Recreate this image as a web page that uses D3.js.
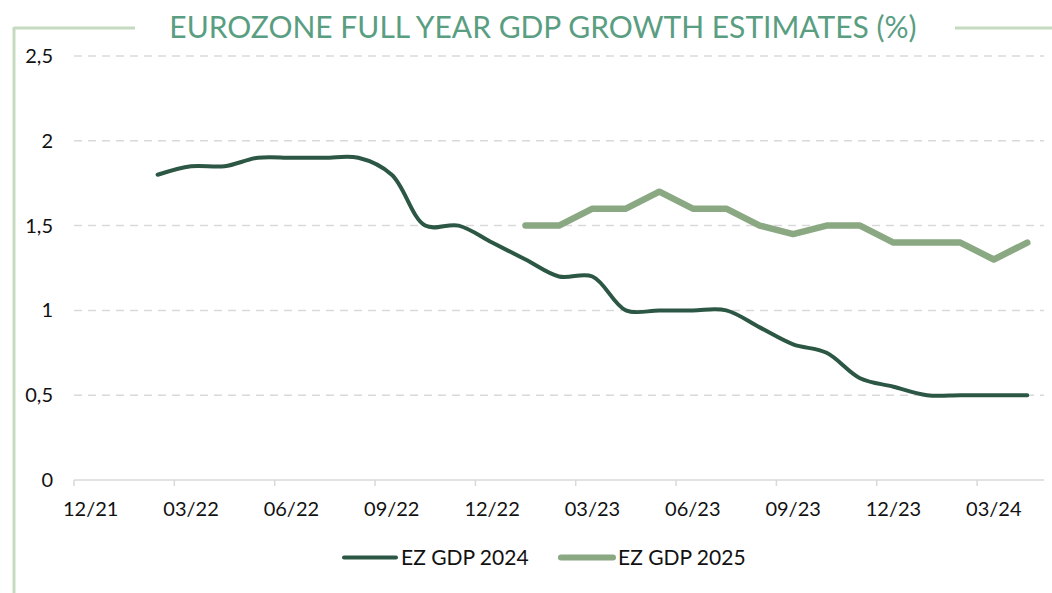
<!DOCTYPE html>
<html>
<head>
<meta charset="utf-8">
<script src="https://cdn.jsdelivr.net/npm/d3@7"></script>
<style>
  html, body { margin: 0; padding: 0; background: #fff; }
  svg { display: block; font-family: Lato, "Open Sans", sans-serif; }
</style>
</head>
<body>
<div id="chart"></div>
<script>
// months on the axis (monthly categories, labels every quarter)
const months = ['12/21','01/22','02/22','03/22','04/22','05/22','06/22','07/22','08/22','09/22','10/22','11/22',
  '12/22','01/23','02/23','03/23','04/23','05/23','06/23','07/23','08/23','09/23','10/23','11/23',
  '12/23','01/24','02/24','03/24','04/24'];
const gdp2024 = [null, null, 1.80, 1.85, 1.85, 1.90, 1.90, 1.90, 1.90, 1.80, 1.50, 1.50,
  1.40, 1.30, 1.20, 1.20, 1.00, 1.00, 1.00, 1.00, 0.90, 0.80, 0.75, 0.60,
  0.55, 0.50, 0.50, 0.50, 0.50];
const gdp2025 = [null, null, null, null, null, null, null, null, null, null, null, null,
  null, 1.50, 1.50, 1.60, 1.60, 1.70, 1.60, 1.60, 1.50, 1.45, 1.50, 1.50,
  1.40, 1.40, 1.40, 1.30, 1.40];
const yTicks = [0, 0.5, 1, 1.5, 2, 2.5];
const seriesNames = ['EZ GDP 2024', 'EZ GDP 2025'];

const width = 1052, height = 593;
const svg = d3.select('#chart').append('svg')
    .attr('width', width)
    .attr('height', height);

// cadre vert clair
const frame = '#c5dbc1';
svg.append('line').attr('x1', 14).attr('y1', 28).attr('x2', 135).attr('y2', 28)
    .attr('stroke', frame).attr('stroke-width', 3);
svg.append('line').attr('x1', 14).attr('y1', 27).attr('x2', 14).attr('y2', height)
    .attr('stroke', frame).attr('stroke-width', 3);
svg.append('line').attr('x1', 955).attr('y1', 28).attr('x2', width).attr('y2', 28)
    .attr('stroke', frame).attr('stroke-width', 3);

svg.append('text')
    .attr('x', 543)
    .attr('y', 38)
    .attr('text-anchor', 'middle')
    .attr('fill', '#5a9e82')
    .style('font-size', '30px')
    .text('EUROZONE FULL YEAR GDP GROWTH ESTIMATES (%)');

const x = d3.scaleBand().domain(months).range([74, 1044]);
const y = d3.scaleLinear().domain([0, 2.5]).range([480, 56]);
const fmt = d => String(d).replace('.', ',');

// gridlines
svg.append('g').selectAll('line')
    .data(yTicks.filter(d => d > 0))
    .enter().append('line')
    .attr('x1', 74).attr('x2', 1044)
    .attr('y1', d => y(d)).attr('y2', d => y(d))
    .attr('stroke', '#d9d9d9')
    .attr('stroke-width', 1.5)
    .attr('stroke-dasharray', '8,6');

// y labels
svg.append('g').selectAll('text')
    .data(yTicks)
    .enter().append('text')
    .attr('x', 53)
    .attr('y', d => y(d) + 7)
    .attr('text-anchor', 'end')
    .attr('fill', '#111')
    .style('font-size', '20px')
    .text(fmt);

// x axis
svg.append('line')
    .attr('x1', 74).attr('x2', 1044)
    .attr('y1', y(0)).attr('y2', y(0))
    .attr('stroke', '#d9d9d9').attr('stroke-width', 1.5);

const labelled = months.filter((m, i) => i % 3 === 0);
svg.append('g').selectAll('line')
    .data(labelled)
    .enter().append('line')
    .attr('x1', d => x(d)).attr('x2', d => x(d))
    .attr('y1', y(0)).attr('y2', y(0) + 6)
    .attr('stroke', '#d9d9d9').attr('stroke-width', 1.5);

svg.append('g').selectAll('text')
    .data(labelled)
    .enter().append('text')
    .attr('x', d => x(d) + x.bandwidth() / 2)
    .attr('y', 516)
    .attr('text-anchor', 'middle')
    .attr('fill', '#111')
    .style('font-size', '20px')
    .text(d => d);

// series
const cx = (d, i) => x(months[i]) + x.bandwidth() / 2;

const smooth = d3.line()
    .defined(d => d !== null)
    .x(cx)
    .y(d => y(d))
    .curve(d3.curveCatmullRom.alpha(0.5));

const straight = d3.line()
    .defined(d => d !== null)
    .x(cx)
    .y(d => y(d));

svg.append('path')
    .datum(gdp2025)
    .attr('d', straight)
    .attr('fill', 'none')
    .attr('stroke', '#8aa882')
    .attr('stroke-width', 6.5)
    .attr('stroke-linecap', 'round')
    .attr('stroke-linejoin', 'round');

svg.append('path')
    .datum(gdp2024)
    .attr('d', smooth)
    .attr('fill', 'none')
    .attr('stroke', '#2c5745')
    .attr('stroke-width', 4)
    .attr('stroke-linecap', 'round');

// legende
const legend = [
  {name: seriesNames[0], color: '#2c5745', w: 4, x: 344},
  {name: seriesNames[1], color: '#8aa882', w: 6, x: 561}
];
legend.forEach(l => {
  svg.append('line')
      .attr('x1', l.x).attr('x2', l.x + 52)
      .attr('y1', 557.5).attr('y2', 557.5)
      .attr('stroke', l.color)
      .attr('stroke-width', l.w)
      .attr('stroke-linecap', 'round');
  svg.append('text')
      .attr('x', l.x + 57)
      .attr('y', 565)
      .attr('fill', '#111')
      .style('font-size', '21px')
      .text(l.name);
});
</script>
</body>
</html>
